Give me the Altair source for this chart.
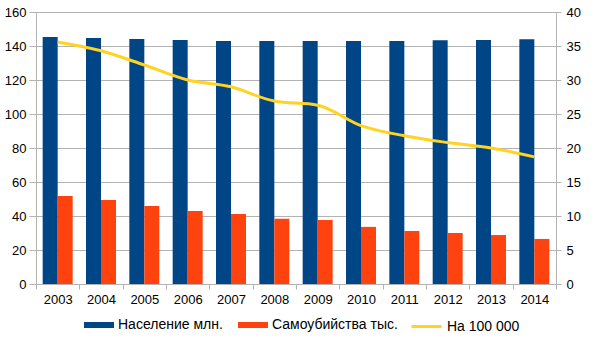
import altair as alt
import pandas as pd

years = ["2003", "2004", "2005", "2006", "2007", "2008", "2009", "2010", "2011", "2012", "2013", "2014"]
population = [145.3, 144.7, 144.1, 143.5, 143.0, 142.9, 142.9, 142.9, 142.9, 143.4, 143.5, 144.0]
suicides = [51.8, 49.4, 45.9, 42.9, 41.2, 38.4, 37.7, 33.6, 31.2, 30.0, 28.8, 26.5]
rate = [35.6, 34.3, 32.2, 30.0, 29.0, 26.9, 26.3, 23.3, 21.8, 20.8, 20.0, 18.7]

s_pop = "Население млн."
s_sui = "Самоубийства тыс."
s_rate = "На 100 000"

bars_df = pd.DataFrame(
    [{"year": y, "series": s_pop, "value": v} for y, v in zip(years, population)]
    + [{"year": y, "series": s_sui, "value": v} for y, v in zip(years, suicides)]
)
line_df = pd.DataFrame({"year": years, "series": [s_rate] * len(years), "value": rate})

FONT = "Liberation Sans"
GRID = "#b3b3b3"

x_enc = alt.X(
    "year:N",
    title=None,
    sort=years,
    scale=alt.Scale(paddingInner=0, paddingOuter=0),
    axis=alt.Axis(
        labelAngle=0,
        tickBand="extent",
        tickSize=5,
        tickColor=GRID,
        domain=False,
        grid=False,
        labelPadding=4,
    ),
)

bars = alt.Chart(bars_df).mark_bar().encode(
    x=x_enc,
    xOffset=alt.XOffset("series:N", sort=[s_pop, s_sui], scale=alt.Scale(paddingInner=0, paddingOuter=0.445)),
    y=alt.Y(
        "value:Q",
        title=None,
        scale=alt.Scale(domain=[0, 160], nice=False),
        axis=alt.Axis(values=list(range(0, 161, 20)), tickSize=7, labelPadding=3, tickColor=GRID,
                      domainColor=GRID, gridColor=GRID, grid=True),
    ),
    color=alt.Color(
        "series:N",
        sort=[s_pop, s_sui],
        scale=alt.Scale(domain=[s_pop, s_sui], range=["#004586", "#ff420e"]),
        legend=alt.Legend(
            title=None,
            orient="none",
            direction="horizontal",
            legendX=48,
            legendY=298,
            symbolType="M-1,-0.2H1V0.2H-1Z",
            symbolSize=900,
            symbolStrokeWidth=0,
            symbolOpacity=1,
            labelOffset=4,
            columnPadding=15,
            padding=0,
        ),
    ),
)

line = alt.Chart(line_df).mark_line(interpolate="monotone", strokeWidth=3).encode(
    x=alt.X("year:N", sort=years),
    y=alt.Y(
        "value:Q",
        title=None,
        scale=alt.Scale(domain=[0, 40], nice=False),
        axis=alt.Axis(orient="right", values=list(range(0, 41, 5)), tickSize=5, labelPadding=5,
                      tickColor=GRID, domainColor=GRID, grid=False),
    ),
    stroke=alt.Stroke(
        "series:N",
        scale=alt.Scale(domain=[s_rate], range=["#ffd320"]),
        legend=alt.Legend(
            title=None,
            orient="none",
            legendX=374,
            legendY=298,
            symbolType="stroke",
            symbolSize=900,
            symbolStrokeWidth=3,
            labelOffset=4,
            padding=0,
        ),
    ),
)

chart = (
    alt.layer(bars, line)
    .resolve_scale(y="independent")
    .properties(
        width=520,
        height=272,
        autosize=alt.AutoSizeParams(type="none"),
        padding={"left": 36, "top": 12, "right": 50, "bottom": 68},
    )
    .configure_view(stroke=None)
    .configure_axis(labelFont=FONT, labelFontSize=13, labelColor="#000000")
    .configure_legend(labelFont=FONT, labelFontSize=14, labelColor="#000000")
)

chart.save("out.html", embed_options={"renderer": "svg", "actions": False})
